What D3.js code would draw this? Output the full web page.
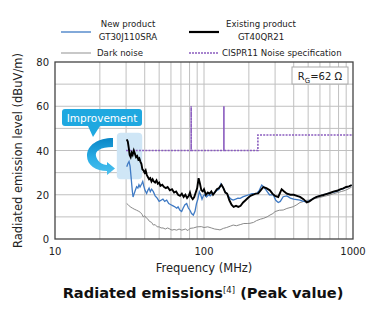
<!DOCTYPE html>
<html lang="en">
<head>
<meta charset="UTF-8">
<title>Radiated emissions</title>
<script src="https://d3js.org/d3.v7.min.js"></script>
<style>
    body { margin: 0; background: #fff; }
    svg { font-family: "DejaVu Sans", Verdana, sans-serif; }
    .grid line { stroke: #c0c0c0; stroke-width: 1; }
    .tick-label { font-size: 10px; fill: #222; }
    .legend-text { font-size: 8.6px; fill: #222; }
</style>
</head>
<body>
<svg id="chart"></svg>
<script>
    // ---- data (frequency in MHz, level in dBuV/m) ----
    const existingFreq = [30.3, 30.8, 31.3, 31.7, 32.2, 32.7, 33.2, 33.8, 34.4, 35.0, 35.6, 36.2, 36.8, 37.4, 38.0, 38.6, 39.2, 39.9, 40.6, 41.3, 42.0, 42.8, 43.6, 44.4, 45.2, 46.0, 47.0, 48.0, 49.0, 50.0, 51.0, 52.5, 54, 55.5, 57, 59, 61, 63, 65, 67, 69, 71, 73, 75, 77, 79, 80.5, 82, 84, 86, 88, 90, 92, 94, 96, 98, 100, 103, 106, 109, 112, 115, 118, 122, 126, 131, 135, 139, 143, 148, 153, 158, 164, 170, 176, 183, 190, 197, 205, 214, 222, 231, 240, 250, 262, 277, 288, 300, 315, 332, 345, 360, 380, 400, 420, 441, 465, 489, 510, 542, 570, 600, 632, 660, 700, 738, 780, 820, 861, 900, 940, 980];
    const existingLevel = [45, 44, 41, 38, 37, 39, 38, 40, 38.5, 37, 37.5, 36, 36.5, 35, 34, 31.5, 31, 30, 31, 29, 28, 27, 27.5, 26, 27, 26, 25.5, 26.5, 25, 25.5, 24, 24.5, 23.5, 23, 23.5, 22, 22.5, 21, 21.5, 20, 19.5, 20.5, 19, 20, 18.5, 19.5, 21, 19, 18, 19, 21, 23, 27.5, 25, 22, 21.5, 22.5, 20, 21, 20.5, 21.5, 20, 21, 22.5, 23, 24.5, 23, 21, 20.5, 17.5, 15.5, 14.5, 15, 14.5, 15, 16.5, 17.5, 18.5, 19.5, 20, 20.5, 20.6, 22, 23.5, 23, 22, 20.5, 19.5, 19, 22.5, 21.5, 20.5, 20, 20, 19.5, 19, 18, 16.5, 17, 18.3, 19, 19.5, 19.9, 20.3, 20.8, 21.4, 21.8, 22.4, 22.9, 23.5, 23.8, 24.4];

    const newFreq = [30.3, 30.8, 31.4, 31.9, 32.4, 33.0, 33.4, 34, 34.6, 35.3, 36, 36.6, 37.2, 38.2, 38.8, 39.4, 40.2, 41.2, 42, 42.8, 43.6, 44.5, 45.7, 47, 48.5, 50, 51.5, 53, 54.5, 56.2, 58, 60, 62, 64, 65.6, 67, 69, 70.8, 72.5, 74.5, 76.5, 78.5, 80.5, 82.5, 84.8, 87, 89, 91, 93, 95, 97, 99, 101, 104, 107, 110, 114, 118, 122, 126, 130, 134, 138, 142, 147, 152, 157, 163, 169, 175, 182, 190, 200, 210, 226, 235, 244, 252, 262, 275, 292, 303, 315, 325, 340, 360, 380, 400, 441, 465, 489, 510, 542, 570, 600, 632, 660, 700, 738, 780, 820, 861, 900, 940, 980];
    const newLevel = [32.7, 34, 35, 33, 28, 22, 19, 20.5, 22, 23.6, 23, 24.5, 23.5, 25, 26, 24, 22, 20.6, 22, 23, 21.4, 22.5, 21.4, 19.5, 18.5, 17, 17.5, 18, 17, 17.6, 16, 15.5, 15, 14.5, 13.9, 14.5, 13, 12.4, 14, 15.5, 16, 14, 13, 11.5, 10.8, 12.5, 16, 18, 21.4, 20, 18, 19.5, 20, 19, 20, 19.5, 20.5, 21, 22, 22.5, 25, 23.5, 21.5, 20.6, 19, 18, 17.6, 18, 18.5, 18.4, 19, 19.5, 20, 20.5, 20.6, 22, 24.4, 23.5, 22, 20, 19.9, 17.5, 16.5, 17, 19.1, 19.5, 18.5, 18, 17.6, 17, 16.8, 17.3, 18.3, 19, 19.5, 19.9, 20.3, 20.8, 21.2, 21.5, 22.3, 22.8, 23.5, 23.8, 24.3];

    const noiseFreq = [30.3, 31, 32, 33, 34, 35.3, 36.5, 37.5, 38.5, 39.1, 40, 41, 42, 43, 44.5, 45.7, 47, 48.5, 50, 51.5, 53.1, 55, 57, 59, 61, 63, 65.6, 68, 71, 75, 78, 80.5, 85, 90, 96, 100, 106, 112, 118, 124, 128, 135, 142, 150, 157, 165, 175, 185, 195, 203.5, 215, 225, 240, 250, 265, 277, 290, 300, 320, 340, 360, 397, 420, 441, 464, 489, 520, 560, 600, 640, 690, 740, 790, 840, 890, 940, 980];
    const noiseLevel = [16, 15.5, 14.5, 14, 13.5, 13, 12.5, 12, 11, 10, 10.5, 9.5, 9, 8, 7.5, 6.3, 6.5, 5.5, 5.5, 5, 5, 4.5, 5, 4.5, 4, 4.3, 4, 4.5, 4, 4.5, 3.8, 4.8, 5, 5.5, 5.6, 5.2, 5.5, 5, 4.5, 4.3, 4.1, 4.8, 5.2, 5.8, 6.3, 6, 6.5, 7, 7, 7.1, 7.5, 8.3, 9, 9.3, 10, 10.8, 11.5, 12.4, 13, 13.1, 13.8, 14.6, 15.5, 16.5, 16.9, 17.5, 17.6, 18.3, 18.8, 19.3, 19.8, 20.5, 21, 21.5, 22, 22.8, 23.5];

    const specFreq = [30, 82, 82, 82, 136, 136, 136, 230, 230, 1000];
    const specLevel = [40, 40, 60, 40, 40, 60, 40, 40, 47, 47];

    const xTicks = [10, 100, 1000];
    const yTicks = [0, 20, 40, 60, 80];

    const W = 371, H = 326;
    const margin = { top: 62, right: 18, bottom: 87, left: 55 };

    const svg = d3.select("#chart").attr("width", W).attr("height", H);

    const x = d3.scaleLog().domain([10, 1000]).range([margin.left, W - margin.right]);
    const y = d3.scaleLinear().domain([0, 80]).range([H - margin.bottom, margin.top]);

    // grid
    const minorX = [];
    for (let d = 10; d < 1000; d *= 10) for (let k = 2; k <= 9; k++) minorX.push(d * k);
    const grid = svg.append("g").attr("class", "grid");
    grid.selectAll(".vx").data(minorX.concat([100])).enter().append("line")
        .attr("x1", d => x(d)).attr("x2", d => x(d))
        .attr("y1", y(0)).attr("y2", y(80));
    grid.selectAll(".hy").data(d3.range(10, 80, 10)).enter().append("line")
        .attr("x1", x(10)).attr("x2", x(1000))
        .attr("y1", d => y(d)).attr("y2", d => y(d));

    // improvement shading behind lines
    svg.append("rect")
        .attr("x", x(26)).attr("y", y(48))
        .attr("width", x(38.5) - x(26)).attr("height", y(27) - y(48))
        .attr("rx", 4).attr("fill", "#cfe6f6");

    const line = (fs, vs) => d3.line()
        .x((d, i) => x(fs[i]))
        .y((d, i) => y(vs[i]))(fs);

    // CISPR spec
    svg.append("path").attr("d", line(specFreq, specLevel))
        .attr("fill", "none").attr("stroke", "#8a5cbf")
        .attr("stroke-width", 1.6).attr("stroke-dasharray", "2,1.2");

    svg.append("path").attr("d", line(noiseFreq, noiseLevel))
        .attr("fill", "none").attr("stroke", "#8a8a8a").attr("stroke-width", 1);
    svg.append("path").attr("d", line(newFreq, newLevel))
        .attr("fill", "none").attr("stroke", "#3f7ac4").attr("stroke-width", 1.3);
    svg.append("path").attr("d", line(existingFreq, existingLevel))
        .attr("fill", "none").attr("stroke", "#000").attr("stroke-width", 1.9);

    // frame
    svg.append("rect")
        .attr("x", x(10)).attr("y", y(80))
        .attr("width", x(1000) - x(10)).attr("height", y(0) - y(80))
        .attr("fill", "none").attr("stroke", "#444").attr("stroke-width", 1.3);

    // tick labels
    svg.selectAll(".xt").data(xTicks).enter().append("text")
        .attr("class", "tick-label").attr("x", d => x(d)).attr("y", y(0) + 16)
        .attr("text-anchor", "middle").text(d => d);
    svg.selectAll(".yt").data(yTicks).enter().append("text")
        .attr("class", "tick-label").attr("x", x(10) - 6).attr("y", d => y(d) + 4)
        .attr("text-anchor", "end").text(d => d);

    // axis titles
    svg.append("text").attr("x", (x(10) + x(1000)) / 2).attr("y", y(0) + 33)
        .attr("text-anchor", "middle").style("font-size", "11.5px").attr("fill", "#222")
        .text("Frequency (MHz)");
    svg.append("text")
        .attr("transform", "translate(22," + ((y(0) + y(80)) / 2) + ") rotate(-90)")
        .attr("text-anchor", "middle").style("font-size", "11.5px").attr("fill", "#222")
        .text("Radiated emission level (dBuV/m)");

    // title
    const title = svg.append("text").attr("x", 203).attr("y", 298)
        .attr("text-anchor", "middle").style("font-size", "14.6px")
        .style("font-weight", "bold").attr("fill", "#111");
    title.append("tspan").text("Radiated emissions");
    title.append("tspan").attr("dy", -5).style("font-size", "8.5px").style("font-weight", "normal").text("[4]");
    title.append("tspan").attr("dy", 5).text(" (Peak value)");

    // RG box
    svg.append("rect").attr("x", 292).attr("y", 67).attr("width", 56).attr("height", 17)
        .attr("fill", "#fff").attr("stroke", "#aaa");
    const rg = svg.append("text").attr("x", 320).attr("y", 79.5)
        .attr("text-anchor", "middle").style("font-size", "10px").attr("fill", "#222");
    rg.append("tspan").text("R");
    rg.append("tspan").attr("dy", 3).style("font-size", "7px").text("G");
    rg.append("tspan").attr("dy", -3).text("=62 Ω");

    // legend
    const legend = [
        { lx: 61, ly: 32, color: "#3f7ac4", w: 1.3, dash: null, lines: ["New product", "GT30J110SRA"], tx: 128, anchor: "middle" },
        { lx: 189, ly: 32, color: "#000", w: 2.2, dash: null, lines: ["Existing product", "GT40QR21"], tx: 261, anchor: "middle" },
        { lx: 61, ly: 53, color: "#aaa", w: 1.3, dash: null, lines: ["Dark noise"], tx: 97, anchor: "start" },
        { lx: 189, ly: 53, color: "#8a5cbf", w: 1.3, dash: "2,1", lines: ["CISPR11 Noise specification"], tx: 222, anchor: "start" }
    ];
    legend.forEach(l => {
        svg.append("line").attr("x1", l.lx).attr("x2", l.lx + 30).attr("y1", l.ly).attr("y2", l.ly)
            .attr("stroke", l.color).attr("stroke-width", l.w)
            .attr("stroke-dasharray", l.dash);
        if (l.lines.length === 2) {
            svg.append("text").attr("class", "legend-text").attr("x", l.tx).attr("y", 27)
                .attr("text-anchor", l.anchor).text(l.lines[0]);
            svg.append("text").attr("class", "legend-text").attr("x", l.tx).attr("y", 40)
                .attr("text-anchor", l.anchor).text(l.lines[1]);
        } else {
            svg.append("text").attr("class", "legend-text").attr("x", l.tx).attr("y", l.ly + 3)
                .attr("text-anchor", l.anchor).text(l.lines[0]);
        }
    });

    // improvement callout
    svg.append("path")
        .attr("d", "M88,126 L93,137 L100,126 Z").attr("fill", "#1fa8e0");
    svg.append("rect").attr("x", 62).attr("y", 109).attr("width", 80).attr("height", 17)
        .attr("rx", 3).attr("fill", "#1fa8e0");
    svg.append("text").attr("x", 102).attr("y", 121.5).attr("text-anchor", "middle")
        .style("font-size", "10.5px").attr("fill", "#fff").text("Improvement");

    // curved arrow
    const defs = svg.append("defs");
    const grad = defs.append("linearGradient").attr("id", "arrowGrad")
        .attr("x1", "0").attr("y1", "0").attr("x2", "0").attr("y2", "1");
    grad.append("stop").attr("offset", "0%").attr("stop-color", "#0a86c6");
    grad.append("stop").attr("offset", "55%").attr("stop-color", "#2aaee6");
    grad.append("stop").attr("offset", "100%").attr("stop-color", "#4cc0ee");
    svg.append("path")
        .attr("d", "M113,138 L113,147 C100,147 95,151 96,156 C97,161 102,165 107,165 L107,162 L115,168.5 L107,175 L107,171 C96,171 87,165 87,156 C87,145 98,138 113,138 Z")
        .attr("fill", "url(#arrowGrad)");
</script>
</body>
</html>
